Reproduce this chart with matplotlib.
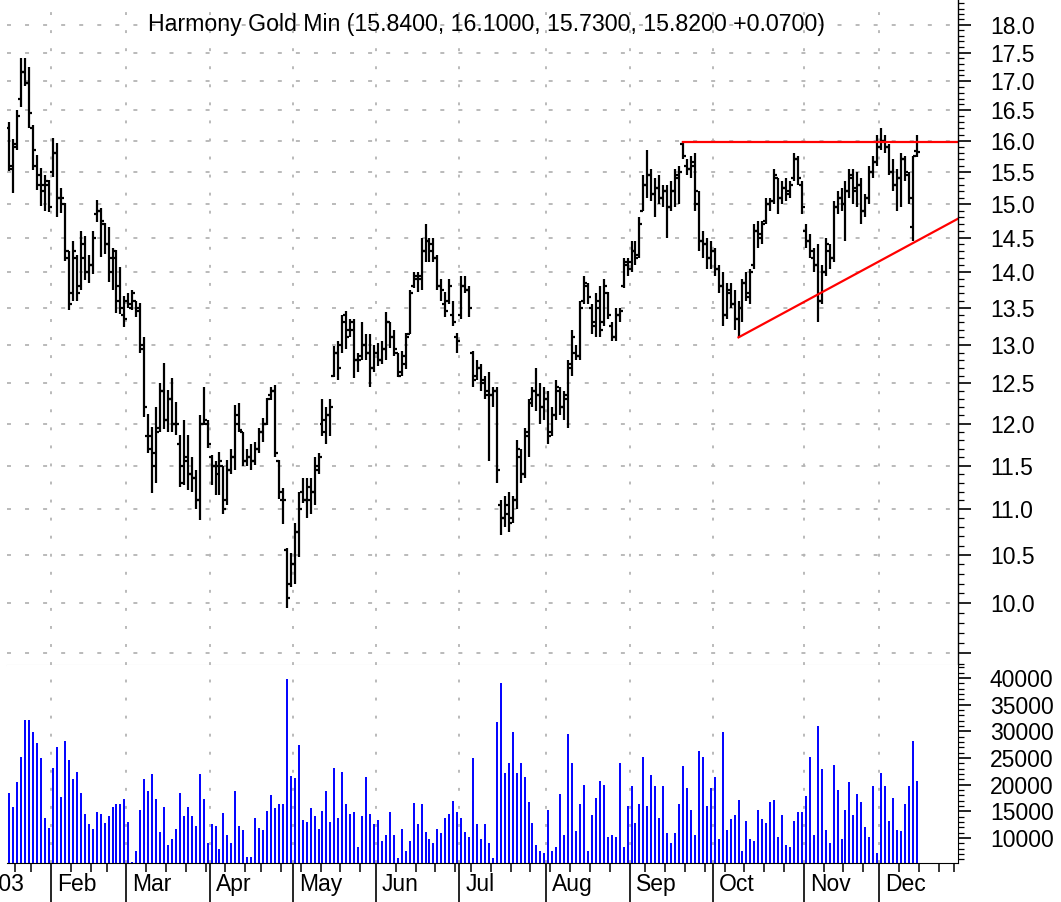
import numpy as np
import pandas as pd
import matplotlib
matplotlib.use("Agg")
import matplotlib.pyplot as plt
from matplotlib.ticker import FixedLocator, FuncFormatter, NullFormatter

plt.rcParams['font.family'] = ['Liberation Sans', 'DejaVu Sans']

title = "Harmony Gold Min (15.8400, 16.1000, 15.7300, 15.8200 +0.0700)"

# daily bars, Jan 16 .. Dec 12 2003 (one line per month)
open_px = [
    16.20, 15.55, 15.95, 16.70, 17.16, 16.96, 16.20, 15.60, 15.30, 15.30, 15.30,
    15.50, 15.80, 15.10, 15.00, 14.30, 13.70, 14.20, 13.80, 14.20, 14.00, 14.10, 14.85, 14.90, 14.70, 14.40, 14.20, 14.30, 13.80, 13.40,
    13.60, 13.50, 13.60, 13.50, 12.95, 11.85, 11.85, 11.50, 11.95, 12.40, 12.05, 12.30, 12.00, 11.75, 11.50, 11.60, 11.40, 11.35, 11.10, 12.00, 12.00,
    11.60, 11.50, 11.40, 11.50, 11.10, 11.45, 11.60, 12.10, 11.90, 11.55, 11.60, 11.55, 11.70, 11.90, 12.00, 12.35, 12.40, 11.55, 11.10, 10.55, 10.20,
    10.40, 10.75, 11.20, 11.10, 11.10, 11.20, 11.45, 12.00, 11.90, 12.10, 12.60, 12.90, 13.00, 13.40, 13.20, 13.20, 12.80, 12.85, 13.00, 12.90, 12.70,
    12.90, 12.80, 12.95, 13.30, 13.10, 12.90, 12.65, 12.75, 13.15, 13.80, 13.90, 13.95, 14.30, 14.45, 14.40, 14.20, 13.80, 13.55, 13.60, 13.40, 13.10,
    13.40, 13.80, 13.75, 12.90, 12.60, 12.70, 12.55, 12.40, 12.35, 12.40, 11.05, 10.90, 10.95, 10.90, 11.10, 11.60, 11.40, 11.90, 12.30, 12.40, 12.35, 12.20,
    12.30, 11.90, 12.10, 12.40, 12.20, 12.30, 12.70, 12.90, 12.85, 13.60, 13.80, 13.50, 13.30, 13.50, 13.30, 13.70, 13.25, 13.10, 13.40, 13.80, 14.10,
    14.15, 14.30, 14.25, 14.90, 15.30, 15.45, 15.15, 15.25, 15.10, 15.20, 14.95, 15.20, 15.40, 15.95, 15.60, 15.55, 15.60, 15.00, 14.45, 14.40, 14.20,
    14.30, 14.05, 13.80, 13.40, 13.70, 13.55, 13.35, 13.50, 13.85, 13.70, 14.10, 14.60, 14.55, 14.75, 15.00, 15.05, 15.40, 15.10, 15.25, 15.20, 15.40, 15.70, 15.30,
    14.60, 14.45, 14.20, 14.10, 13.60, 14.00, 14.30, 14.20, 14.95, 15.10, 15.00, 15.20, 15.40, 15.25, 15.30, 14.90, 15.10, 15.50, 15.65,
    15.90, 16.00, 15.90, 15.50, 15.30, 15.40, 15.70, 15.45, 14.65, 15.84,
]
high_px = [
    16.30, 16.02, 16.51, 17.40, 17.40, 17.24, 16.26, 15.77, 15.56, 15.45, 15.38,
    16.05, 15.97, 15.25, 15.02, 14.30, 14.45, 14.25, 14.60, 14.52, 14.25, 14.60, 15.07, 14.94, 14.72, 14.65, 14.35, 14.32, 14.07, 13.66,
    13.71, 13.75, 13.60, 13.56, 13.10, 12.12, 11.96, 12.20, 12.50, 12.76, 12.42, 12.57, 12.27, 11.86, 12.05, 11.86, 11.60, 11.45, 12.10, 12.45, 12.05,
    11.62, 11.55, 11.66, 11.50, 11.57, 11.70, 12.23, 12.25, 11.90, 11.70, 11.76, 11.78, 11.95, 12.07, 12.32, 12.45, 12.48, 11.57, 11.24, 10.58, 10.52,
    10.85, 11.19, 11.36, 11.36, 11.35, 11.60, 11.65, 12.30, 12.20, 12.30, 12.98, 13.05, 13.40, 13.45, 13.35, 13.35, 12.90, 13.30, 13.15, 13.15, 13.00,
    13.03, 13.05, 13.44, 13.30, 13.20, 12.90, 12.92, 13.16, 13.75, 14.00, 14.00, 14.50, 14.70, 14.50, 14.50, 14.25, 13.90, 13.72, 13.90, 13.60, 13.16,
    13.95, 13.95, 13.80, 12.92, 12.80, 12.75, 12.60, 12.65, 12.45, 12.45, 11.10, 11.15, 11.20, 11.15, 11.80, 11.70, 11.95, 12.30, 12.45, 12.70, 12.50, 12.45,
    12.40, 12.20, 12.55, 12.45, 12.40, 12.80, 13.20, 13.00, 13.60, 13.95, 13.85, 13.55, 13.70, 13.80, 13.90, 13.72, 13.30, 13.50, 13.50, 14.20, 14.20,
    14.45, 14.45, 14.80, 15.45, 15.85, 15.55, 15.40, 15.45, 15.30, 15.30, 15.35, 15.55, 15.60, 16.00, 15.70, 15.75, 15.80, 15.20, 14.60, 14.50, 14.45,
    14.35, 14.10, 14.00, 13.85, 13.85, 13.75, 13.60, 13.90, 14.00, 14.05, 14.70, 14.75, 14.75, 15.10, 15.10, 15.55, 15.40, 15.35, 15.40, 15.35, 15.80, 15.75, 15.35,
    14.70, 14.55, 14.35, 14.40, 14.10, 14.50, 14.40, 15.05, 15.20, 15.25, 15.35, 15.55, 15.55, 15.50, 15.40, 15.15, 15.60, 15.75, 16.10,
    16.20, 16.10, 15.95, 15.70, 15.55, 15.80, 15.75, 15.50, 15.75, 16.10,
]
low_px = [
    15.52, 15.17, 15.85, 16.56, 16.91, 16.20, 15.53, 15.22, 14.97, 14.90, 14.88,
    15.42, 14.80, 14.86, 14.16, 13.47, 13.60, 13.60, 13.75, 13.89, 13.85, 13.97, 14.73, 14.22, 14.26, 13.86, 13.75, 13.43, 13.41, 13.24,
    13.50, 13.47, 13.37, 12.90, 12.08, 11.65, 11.18, 11.30, 11.90, 11.93, 11.90, 11.90, 11.86, 11.25, 11.28, 11.22, 11.20, 11.00, 10.88, 11.98, 11.71,
    11.28, 11.16, 11.16, 10.95, 11.05, 11.40, 11.45, 11.90, 11.50, 11.50, 11.45, 11.51, 11.65, 11.78, 11.98, 12.29, 11.60, 11.12, 10.84, 9.95, 10.16,
    10.20, 10.48, 11.07, 10.90, 10.95, 11.05, 11.40, 11.85, 11.75, 11.85, 12.58, 12.55, 12.90, 12.95, 13.10, 12.57, 12.65, 12.80, 12.80, 12.45, 12.65,
    12.72, 12.75, 12.80, 12.96, 12.85, 12.58, 12.60, 12.68, 13.14, 13.78, 13.72, 13.75, 14.15, 14.15, 14.15, 13.75, 13.60, 13.38, 13.55, 13.25, 12.90,
    13.35, 13.70, 13.38, 12.45, 12.55, 12.40, 12.30, 11.55, 12.20, 11.30, 10.72, 10.80, 10.75, 10.85, 11.00, 11.30, 11.35, 11.60, 12.20, 12.15, 12.00, 12.05,
    11.75, 11.85, 12.05, 12.10, 12.05, 11.95, 12.60, 12.80, 12.80, 13.55, 13.55, 13.15, 13.10, 13.10, 13.25, 13.35, 13.05, 13.05, 13.30, 13.78, 13.95,
    14.00, 14.10, 14.20, 14.90, 15.10, 15.05, 14.80, 15.00, 14.95, 14.50, 14.90, 14.95, 15.00, 15.70, 15.45, 15.40, 14.90, 14.30, 14.20, 14.05, 14.05,
    13.95, 13.70, 13.25, 13.35, 13.50, 13.20, 13.10, 13.30, 13.60, 13.55, 14.05, 14.35, 14.40, 14.70, 14.90, 15.00, 14.85, 15.00, 15.05, 15.10, 15.35, 15.30, 14.85,
    14.35, 14.20, 14.00, 13.30, 13.55, 13.95, 14.05, 14.15, 14.85, 14.90, 14.45, 15.10, 15.00, 14.95, 14.70, 14.80, 15.00, 15.40, 15.60,
    15.85, 15.80, 15.45, 15.20, 14.90, 14.95, 15.35, 15.00, 14.45, 15.73,
]
close_px = [
    15.60, 15.90, 16.40, 17.16, 16.96, 16.46, 15.85, 15.45, 15.20, 15.35, 14.95,
    15.80, 15.10, 15.10, 14.20, 13.55, 14.30, 13.70, 14.40, 14.00, 14.10, 14.50, 14.90, 14.75, 14.40, 14.00, 14.20, 13.60, 13.50, 13.35,
    13.55, 13.70, 13.45, 13.00, 12.20, 11.70, 11.65, 11.90, 12.40, 12.05, 12.30, 12.00, 12.00, 11.30, 11.55, 11.40, 11.35, 11.10, 12.00, 12.05, 11.75,
    11.50, 11.50, 11.55, 11.00, 11.45, 11.60, 12.00, 11.92, 11.55, 11.60, 11.55, 11.70, 11.90, 12.00, 12.30, 12.40, 11.65, 11.20, 11.10, 10.05, 10.40,
    10.75, 11.00, 11.10, 11.25, 11.20, 11.50, 11.60, 12.05, 12.10, 12.20, 12.90, 12.70, 13.30, 13.10, 13.30, 12.80, 12.80, 13.00, 12.90, 12.70, 12.90,
    12.80, 12.95, 13.30, 13.10, 12.95, 12.60, 12.85, 13.10, 13.70, 13.95, 13.90, 14.30, 14.45, 14.30, 14.20, 13.80, 13.75, 13.45, 13.80, 13.30, 13.05,
    13.80, 13.75, 13.50, 12.55, 12.70, 12.50, 12.35, 12.35, 12.40, 11.45, 10.90, 11.05, 10.85, 11.10, 11.70, 11.40, 11.85, 12.25, 12.40, 12.35, 12.20, 12.30,
    11.85, 12.10, 12.45, 12.20, 12.35, 12.75, 13.10, 12.85, 13.50, 13.85, 13.65, 13.25, 13.60, 13.20, 13.80, 13.40, 13.10, 13.40, 13.45, 14.15, 14.05,
    14.30, 14.20, 14.70, 15.30, 15.45, 15.15, 15.25, 15.10, 15.20, 14.95, 15.20, 15.45, 15.50, 15.75, 15.55, 15.65, 15.20, 14.45, 14.40, 14.20, 14.30,
    14.05, 13.80, 13.40, 13.75, 13.55, 13.35, 13.50, 13.85, 13.65, 14.00, 14.60, 14.50, 14.70, 15.00, 15.05, 15.45, 15.10, 15.25, 15.15, 15.30, 15.70, 15.40, 14.95,
    14.45, 14.30, 14.10, 13.60, 14.00, 14.40, 14.20, 14.95, 15.10, 15.00, 15.20, 15.45, 15.20, 15.30, 14.90, 15.10, 15.50, 15.65, 15.90,
    16.00, 15.90, 15.50, 15.30, 15.40, 15.70, 15.50, 15.10, 15.75, 15.82,
]
volume = [
    18380, 15880, 20560, 25250, 32120, 32120, 29930, 27870, 24940, 13690, 11940,
    23190, 27120, 17750, 28190, 24620, 21000, 22430, 18380, 14500, 12620, 11620, 14810, 14500, 12750, 14120, 15880, 16310, 16310, 17310,
    13000, 5560, 7560, 15250, 21000, 18810, 22000, 17310, 11190, 15880, 8690, 9750, 11620, 18380, 14120, 15880, 14120, 12310, 22000, 17310, 9000,
    12620, 12310, 7870, 14750, 10500, 9000, 18810, 12310, 11500, 6500, 6500, 13690, 11940, 11500, 15120, 18060, 15560, 16310, 16310, 39750, 21680,
    21310, 27440, 13380, 13060, 15560, 14120, 11620, 15120, 18810, 13060, 23190, 13810, 22430, 16310, 14500, 14810, 8370, 14120, 21370, 14500, 12620,
    13380, 9440, 10560, 14810, 10560, 6190, 11620, 7620, 9440, 16620, 12620, 16310, 11190, 9810, 9120, 11620, 11000, 13690, 14500, 16940, 14810,
    13690, 11190, 10120, 24940, 12620, 9750, 12620, 9000, 6190, 31810, 39000, 22220, 24050, 29940, 22220, 24050, 21520, 16770, 12720, 8610, 7600, 7280,
    15250, 7600, 8290, 18230, 10570, 29500, 24050, 11270, 16460, 20000, 7600, 14240, 17470, 20760, 20000, 10130, 10570, 10130, 24050, 8290, 16010,
    19680, 12720, 16460, 25190, 16010, 21900, 19680, 13800, 19680, 10950, 9050, 10950, 16460, 23420, 19300, 15250, 10570, 26270, 25190, 16010, 19300,
    21520, 9810, 29940, 11580, 13480, 14240, 17090, 7600, 13100, 9810, 9370, 15250, 13480, 12720, 16770, 17090, 10130, 14240, 8610, 8290, 13100, 14940, 14940,
    17790, 25190, 10570, 31020, 22980, 11580, 9050, 23740, 18990, 9810, 15250, 20440, 14240, 18230, 16770, 12030, 10130, 19680, 7280,
    22220, 19680, 13100, 17470, 11580, 11270, 16460, 19680, 28170, 20760,
]

# red lines drawn on the chart: (bar index, price)
resistance = [(170, 15.98), (239.4, 15.98)]
support = [(184, 13.10), (239.4, 14.78)]

holidays = ['2003-01-20', '2003-02-17', '2003-04-18', '2003-05-26',
            '2003-07-04', '2003-09-01', '2003-11-27', '2003-12-25']
days = pd.bdate_range('2003-01-02', '2003-12-31')
days = days[~days.isin(pd.to_datetime(holidays))]
start = days.get_loc(pd.Timestamp('2003-01-16'))
pos = np.arange(len(days)) - start
x = pos[start:start + len(close_px)]

month_first = [i for i in range(len(days)) if i == 0 or days[i].month != days[i - 1].month]
week_first = [i for i in range(len(days))
              if i == 0 or days[i].isocalendar()[1] != days[i - 1].isocalendar()[1]]
month_bounds = pos[month_first] - 0.5
week_bounds = pos[week_first] - 0.5
month_names = ['2003'] + [days[i].strftime('%b') for i in month_first[1:]]

W, H = 1061, 902
fig = plt.figure(figsize=(W / 100, H / 100), dpi=100)
ax = fig.add_axes([7 / W, 1 - 665 / H, 951 / W, 665 / H])
axv = fig.add_axes([7 / W, 1 - 863 / H, 951 / W, 198 / H], sharex=ax)

grid_c = '#b4b4b4'
xlo, xhi = -0.63, 239.4

# price panel
ax.vlines(x, low_px, high_px, color='black', lw=1.6)
ax.hlines(open_px, x - 0.75, x, color='black', lw=1.6)
ax.hlines(close_px, x, x + 0.75, color='black', lw=1.6)
ax.plot(*zip(*resistance), color='#ff0000', lw=1.6)
ax.plot(*zip(*support), color='#ff0000', lw=1.6)

ax.set_yscale('log')
ax.set_ylim(9.389, 18.46)
ax.set_xlim(xlo, xhi)
ax.yaxis.set_major_locator(FixedLocator(np.arange(9.5, 18.01, 0.5)))
ax.yaxis.set_minor_locator(FixedLocator(np.arange(9.4, 18.45, 0.1)))
ax.yaxis.set_major_formatter(FuncFormatter(lambda v, p: f'{v:.1f}' if v > 9.9 else ''))
ax.yaxis.set_minor_formatter(NullFormatter())
ax.yaxis.tick_right()
ax.tick_params(axis='y', which='major', length=9, width=1.2, pad=14, labelsize=16.5)
ax.tick_params(axis='y', which='minor', length=4.5, width=0.9)
ax.tick_params(axis='x', which='both', bottom=False, labelbottom=False)
ax.yaxis.grid(True, which='major', color=grid_c, linestyle=(0, (2.2, 7.8)), lw=1.3)
for s in ['left', 'top']:
    ax.spines[s].set_visible(False)
ax.spines['bottom'].set_color('#d4d4d4')
ax.spines['right'].set_linewidth(1.0)

# volume panel
vol_lo, vol_hi = 5312, 42437
axv.vlines(x, vol_lo, volume, color='#0000ff', lw=1.4)
axv.set_ylim(vol_lo, vol_hi)
axv.yaxis.set_major_locator(FixedLocator(np.arange(10000, 40001, 5000)))
axv.yaxis.set_minor_locator(FixedLocator(np.arange(6000, 42001, 1000)))
axv.yaxis.set_major_formatter(FuncFormatter(lambda v, p: f'{v:.0f}'))
axv.yaxis.tick_right()
axv.tick_params(axis='y', which='major', length=9, width=1.2, pad=14, labelsize=16.5)
axv.tick_params(axis='y', which='minor', length=4.5, width=0.9)
for s in ['left', 'top']:
    axv.spines[s].set_visible(False)

axv.xaxis.set_major_locator(FixedLocator(month_bounds))
axv.xaxis.set_minor_locator(FixedLocator(week_bounds))
axv.xaxis.set_major_formatter(NullFormatter())
axv.xaxis.set_minor_formatter(NullFormatter())
axv.tick_params(axis='x', which='major', length=29, width=1.2, direction='out')
axv.tick_params(axis='x', which='minor', length=6.5, width=1.1, direction='out')
axv.set_xlim(xlo, xhi)

for b, name in zip(month_bounds, month_names):
    for a in (ax, axv):
        a.axvline(b, color=grid_c, linestyle=(0, (1.6, 8.4)), lw=1.3, zorder=0)
    axv.text(b + 1.5, -0.11, name, transform=axv.get_xaxis_transform(),
             ha='left', va='center', fontsize=16.5, clip_on=False)

fig.text(486.5 / W, 1 - 25 / H, title, ha='center', va='center', fontsize=16.7)

fig.savefig('out.png', dpi=100)
